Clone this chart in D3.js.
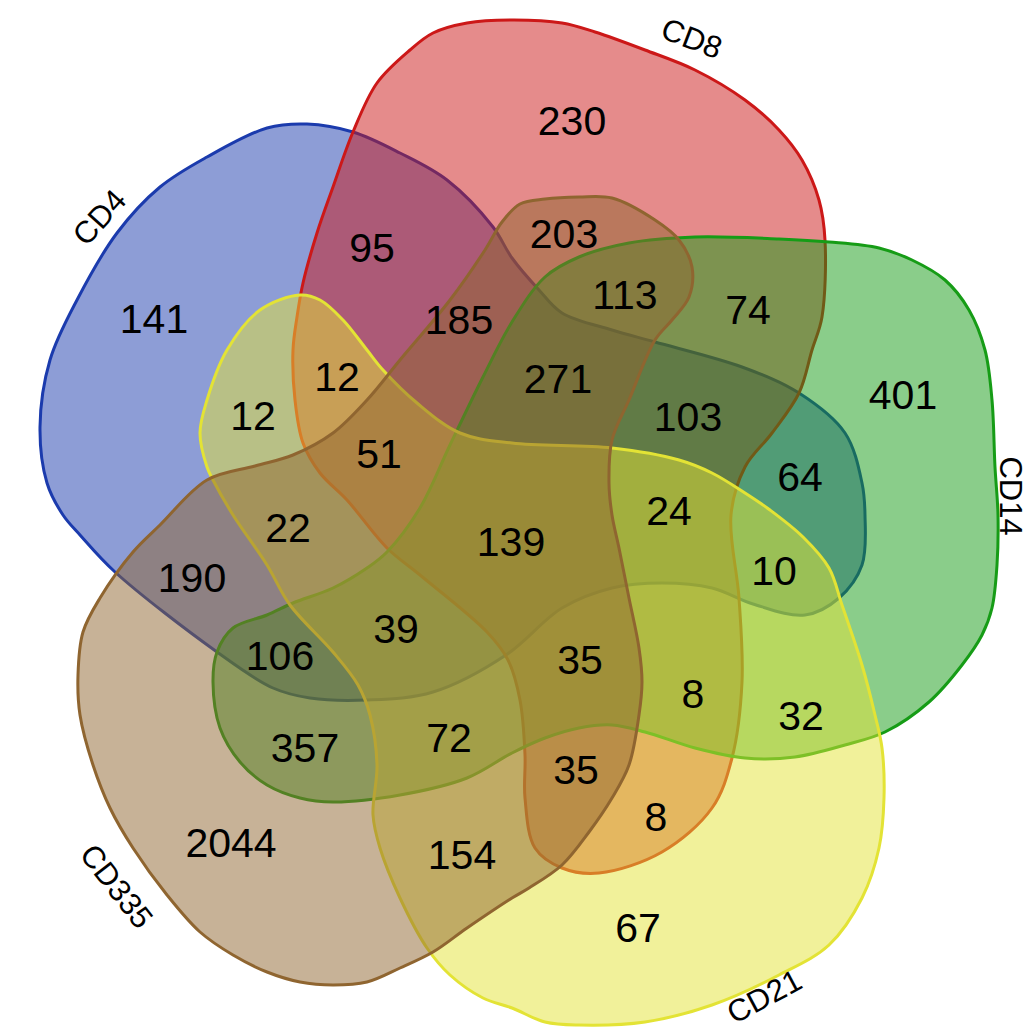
<!DOCTYPE html>
<html>
<head>
<meta charset="utf-8">
<script src="https://cdn.jsdelivr.net/npm/d3@7"></script>
<style>
  body { margin: 0; background: #fff; }
  svg { display: block; }
</style>
</head>
<body>
<div id="venn"></div>
<script>
// five sets, drawn in this order
var setNames = ["CD4", "CD8", "CD14", "CD21", "CD335"];

// one char per set (setNames order), 1 = inside
var regionCodes = [
    "10000", "01000", "00100", "00010", "00001",
    "11000", "01001", "01100", "10100", "10010",
    "10001", "00110", "00101", "01010", "00011",
    "01101", "11001", "11100", "11010", "10110",
    "10011", "10101", "01110", "00111", "01011",
    "11101", "11011", "11110", "10111", "01111",
    "11111"
];
var regionCounts = [
    141, 230, 401, 67, 2044,
    95, 203, 74, 64, 12,
    190, 32, 357, 8, 154,
    113, 185, 103, 12, 10,
    22, 106, 8, 72, 35,
    271, 51, 24, 39, 35,
    139
];

// ---- layout (template units, 1024 x 1030 template) ----
var setColors = ["#1b3bad", "#cc1818", "#169c16", "#e3e335", "#8f6530"];

var outlines = [
    // CD4
    [[307,124],[353,132],[400,153],[447,180],[493,227],[512,258],[539,290],[562,313],[612,330],[655,342],
     [742,367],[799,393],[845,433],[862,483],[865,515],[862,565],[839,598],[805,615],[753,604],[712,588],
     [662,583],[612,588],[562,608],[506,655],[433,692],[367,700],[310,698],[273,688],[217,652],[115,572],
     [80,535],[63,515],[47,483],[40,427],[50,360],[77,300],[117,233],[160,187],[207,157],[267,128]],
    // CD8
    [[353,132],[377,83],[410,50],[433,33],[467,23],[512,20],[562,23],[595,32],[645,50],[695,70],
     [745,100],[779,130],[802,160],[819,200],[825,240],[822,317],[812,350],[799,393],[772,433],[745,467],
     [731,515],[739,598],[742,682],[732,758],[712,808],[662,852],[599,873],[562,868],[535,848],[525,798],
     [525,755],[520,700],[508,660],[487,632],[420,575],[387,548],[347,500],[320,473],[303,443],[295,400],
     [293,350],[297,317],[303,283],[317,233],[333,187]],
    // CD14
    [[512,322],[545,277],[579,257],[629,243],[695,237],[779,239],[829,242],[879,248],[912,260],[945,280],
     [969,310],[985,350],[992,400],[995,467],[998,515],[997,565],[992,608],[982,635],[962,665],[929,702],
     [885,732],[845,745],[795,757],[745,758],[695,748],[645,732],[612,725],[579,728],[545,738],[512,753],
     [467,778],[400,795],[333,802],[300,798],[267,785],[240,762],[220,728],[213,682],[217,652],[233,628],
     [267,615],[293,603],[333,588],[367,568],[387,552],[420,508],[450,445],[483,377]],
    // CD21
    [[300,295],[320,300],[343,320],[367,350],[383,370],[417,403],[460,433],[512,443],[612,448],[679,460],
     [712,473],[745,493],[770,510],[803,537],[829,568],[842,605],[862,665],[875,715],[882,748],[884,798],
     [879,848],[862,898],[829,945],[779,975],[712,1005],[645,1022],[579,1025],[545,1022],[512,1008],[483,998],
     [450,975],[427,948],[400,898],[380,848],[373,815],[377,765],[370,715],[358,685],[333,652],[290,605],
     [267,565],[233,515],[213,480],[207,467],[200,433],[207,400],[227,350],[260,310]],
    // CD335
    [[502,222],[520,204],[545,199],[579,197],[612,198],[655,220],[679,240],[692,267],[689,297],[672,320],
     [655,340],[629,400],[612,440],[609,483],[612,515],[619,548],[629,598],[639,648],[642,682],[639,715],
     [629,765],[612,798],[589,832],[562,865],[529,888],[512,898],[467,928],[433,952],[400,968],[367,982],
     [333,985],[300,982],[267,972],[233,955],[200,932],[167,895],[133,848],[110,808],[93,765],[80,715],
     [78,675],[83,632],[100,598],[133,552],[160,525],[207,480],[255,466],[293,455],[333,433],[367,400],
     [400,360],[450,300],[485,250]]
];

// where each region's count sits (same order as regionCodes)
var regionAnchors = [
    [154,318], [572,120], [903,394], [638,927], [231,842],
    [372,247], [564,233], [748,309], [800,476], [253,415],
    [192,577], [801,715], [305,747], [656,816], [462,854],
    [625,294], [459,319], [688,416], [337,376], [774,570],
    [288,527], [280,655], [693,693], [449,737], [576,769],
    [558,378], [379,453], [669,510], [396,628], [580,659],
    [511,541]
];

var setLabelAnchors = [[99,217], [692,38], [1011,496], [764,996], [117,886]];
var setLabelAngles = [-48, 21, 90, -28, 52];

var width = 1024, height = 1030;

var x = d3.scaleLinear().domain([0, 1024]).range([0, width]);
var y = d3.scaleLinear().domain([0, 1030]).range([0, height]);

var svg = d3.select("#venn")
    .append("svg")
    .attr("width", width)
    .attr("height", height);

var outline = d3.line()
    .x(function (p) { return x(p[0]) })
    .y(function (p) { return y(p[1]) })
    .curve(d3.curveCatmullRomClosed.alpha(0.5));

var sets = setNames.map(function (name, i) {
    return { name: name, color: setColors[i], pts: outlines[i] }
});

svg.append("g")
    .selectAll("path")
    .data(sets)
    .enter()
    .append("path")
    .attr("d", function (d) { return outline(d.pts) })
    .attr("fill", function (d) { return d.color })
    .attr("fill-opacity", 0.5)
    .attr("stroke", function (d) { return d.color })
    .attr("stroke-width", 3)
    .attr("stroke-linejoin", "round");

var regions = regionCodes.map(function (code, i) {
    return { code: code, count: regionCounts[i], at: regionAnchors[i] }
});

svg.append("g")
    .selectAll("text")
    .data(regions)
    .enter()
    .append("text")
    .attr("x", function (d) { return x(d.at[0]) })
    .attr("y", function (d) { return y(d.at[1]) })
    .attr("dy", "0.36em")
    .attr("text-anchor", "middle")
    .style("font-family", "'Liberation Sans', Arial, sans-serif")
    .style("font-size", "41px")
    .attr("fill", "#000")
    .text(function (d) { return d.count });

svg.append("g")
    .selectAll("text")
    .data(sets)
    .enter()
    .append("text")
    .attr("transform", function (d, i) {
        var p = setLabelAnchors[i];
        return "translate(" + x(p[0]) + "," + y(p[1]) + ") rotate(" + setLabelAngles[i] + ")"
    })
    .attr("dy", "0.36em")
    .attr("text-anchor", "middle")
    .style("font-family", "'Liberation Sans', Arial, sans-serif")
    .style("font-size", "31px")
    .attr("fill", "#000")
    .text(function (d) { return d.name });
</script>
</body>
</html>
